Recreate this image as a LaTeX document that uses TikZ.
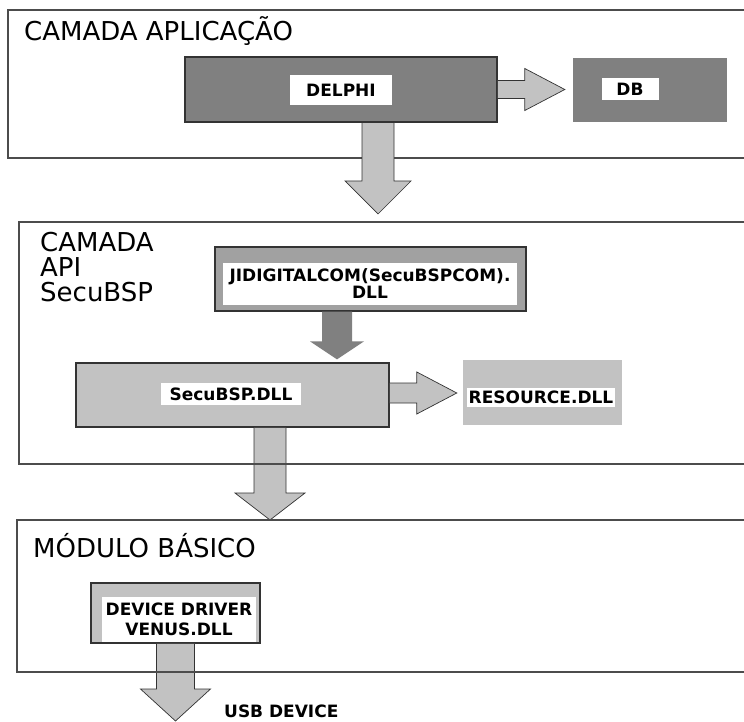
\documentclass[tikz,border=0pt]{standalone}
\usepackage{fontspec}
\setmainfont{DejaVu Sans}
\usepackage{xcolor}
\definecolor{layerbd}{rgb}{0.3,0.3,0.3}
\definecolor{boxbd}{rgb}{0.2,0.2,0.2}
\definecolor{darkbg}{rgb}{0.5,0.5,0.5}
\definecolor{midbg}{rgb}{0.63,0.63,0.63}
\definecolor{lightbg}{rgb}{0.76,0.76,0.76}
\usepackage{tikz}
\usetikzlibrary{positioning, calc}

% fat block arrows: [style]{from}{tip}{shaft half width}{head half width}{head length}
\newcommand{\fatdown}[6][]{%
  \draw[blockarrow,#1] let \p1=#2, \p2=#3 in
    (\x1-#4,\y1) -- (\x1-#4,\y2+#6) -- (\x1-#5,\y2+#6) -- (\x1,\y2)
    -- (\x1+#5,\y2+#6) -- (\x1+#4,\y2+#6) -- (\x1+#4,\y1) -- cycle;}
\newcommand{\fatright}[6][]{%
  \draw[blockarrow,#1] let \p1=#2, \p2=#3 in
    (\x1,\y1+#4) -- (\x2-#6,\y1+#4) -- (\x2-#6,\y1+#5) -- (\x2,\y1)
    -- (\x2-#6,\y1-#5) -- (\x2-#6,\y1-#4) -- (\x1,\y1-#4) -- cycle;}

\begin{document}
\begin{tikzpicture}[
  x=1pt, y=-1pt,
  layerbox/.style={draw=layerbd, line width=1.5pt, fill=white, outer sep=0pt},
  layerline/.style={draw=layerbd, line width=1.5pt},
  layertitle/.style={font=\fontsize{26}{25}\selectfont, align=left, inner sep=0pt},
  module/.style={draw=boxbd, line width=1.2pt, inner sep=0pt},
  plainbox/.style={inner sep=0pt},
  dlltext/.style={fill=white, inner sep=0pt, align=center,
                  font=\fontsize{17}{17}\selectfont\bfseries},
  blockarrow/.style={fill=lightbg, draw=boxbd, line width=0.7pt},
]
\useasboundingbox (0,0) rectangle (744,722);

% --- Camada aplicacao ---
\node[layerbox, minimum width=740, minimum height=148] (app) at (378,84) {};
\node[layertitle, anchor=base west] (apptitle) at (24,41) {CAMADA APLICAÇÃO};
\node[module, fill=darkbg, minimum width=312, minimum height=65] (delphi) at (341,89.5) {};
\node[dlltext, minimum width=102, minimum height=30] (delphitxt) at (341,90) {DELPHI};
\node[plainbox, fill=darkbg, minimum width=154, minimum height=64] (db) at (650,90) {};
\node[dlltext, minimum width=57, minimum height=22] (dbtxt) at (630,89) {DB};

% --- Camada API ---
\node[layerbox, minimum width=729, minimum height=242] (api) at (383.5,343) {};
\node[layertitle, anchor=north west] (apititle) at (40,232) {CAMADA\\API\\SecuBSP};
\node[module, fill=midbg, minimum width=311, minimum height=64] (jidigital) at (370.5,279) {};
\node[dlltext, minimum width=294, minimum height=42] (jidigitaltxt) at (370,284) {JIDIGITALCOM(SecuBSPCOM).\\DLL};
\node[module, fill=lightbg, minimum width=313, minimum height=64] (secubsp) at (232.5,395) {};
\node[dlltext, minimum width=140, minimum height=22] (secubsptxt) at (231,394) {SecuBSP.DLL};
\node[plainbox, fill=lightbg, minimum width=159, minimum height=65] (resource) at (542.5,392.5) {};
\node[dlltext, minimum width=148, minimum height=19] (resourcetxt) at (541,397.5) {RESOURCE.DLL};

% --- Modulo basico ---
\node[layerbox, minimum width=731, minimum height=152] (basic) at (382.5,596) {};
\node[layertitle, anchor=base west] (basictitle) at (33,557) {MÓDULO BÁSICO};
\node[module, fill=lightbg, minimum width=169, minimum height=60] (driver) at (175.5,613) {};
\node[dlltext, minimum width=154, minimum height=45, font=\fontsize{17}{20}\selectfont\bfseries]
  (drivertxt) at (179,619.5) {DEVICE DRIVER\\VENUS.DLL};
\coordinate (usbend) at (176,721);
\node[dlltext, fill=none, anchor=base west] (usb) at (224,717) {USB DEVICE};

% Arrows
\fatright{(delphi.east)}{($(db.west)+(-8,0)$)}{9pt}{21pt}{40pt}
\fatdown{($(delphi.south)+(37,0)$)}{($(api.north)+(0,-8)$)}{16pt}{33pt}{33pt}
\fatdown[fill=darkbg, draw=none]{($(jidigital.south)+(-33.5,0)$)}{($(secubsp.north)+(0,-3)$)}{15pt}{27pt}{18pt}
\fatright{($(secubsp.east)+(0,-2)$)}{($(resource.west)+(-6,0)$)}{10pt}{21pt}{40pt}
\fatdown{($(secubsp.south)+(37.5,0)$)}{(basic.north)}{16pt}{35pt}{27pt}
\fatdown{(driver.south)}{(usbend)}{19pt}{35pt}{32pt}

% layer borders stay on top of the arrows
\draw[layerline] (api.south west) -- (api.south east);
\draw[layerline] (basic.north west) -- (basic.north east);
\draw[layerline] (basic.south west) -- (basic.south east);
\end{tikzpicture}
\end{document}
